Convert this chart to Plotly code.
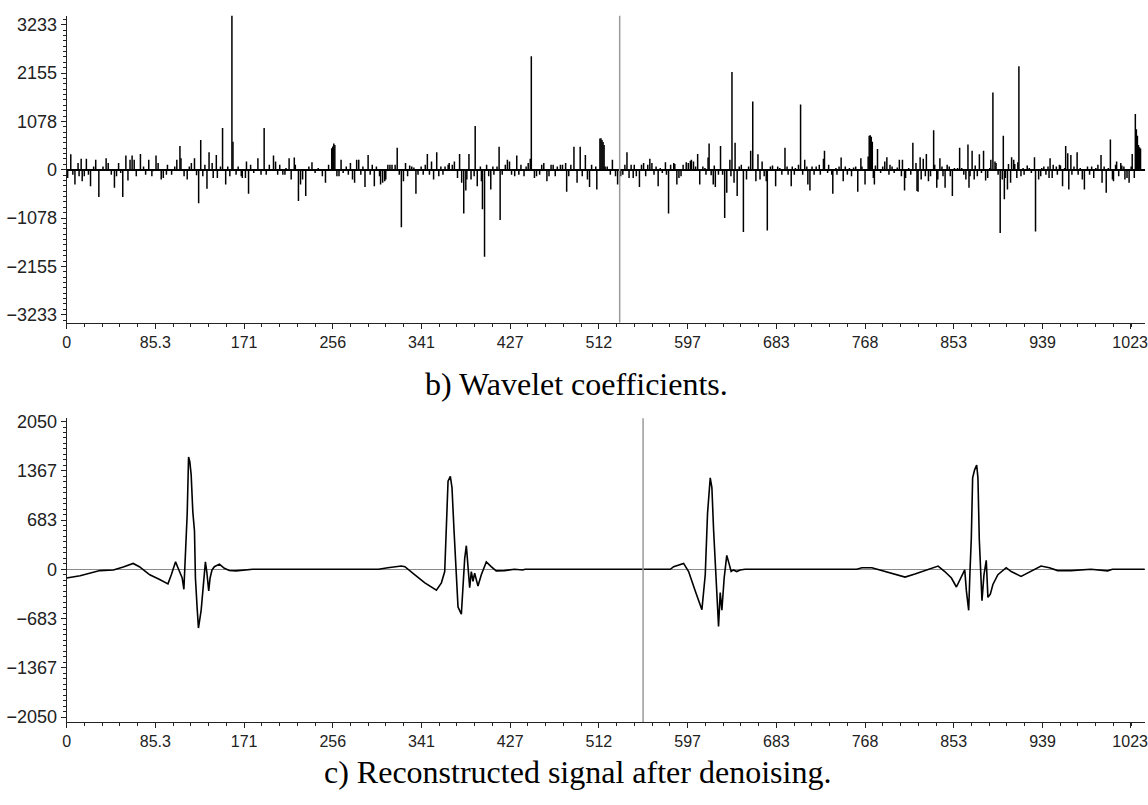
import plotly.graph_objects as go

W, H = 1148, 805

# ---- wavelet coefficients (sample index, value) ----
coef_index = [
    1, 4, 6, 8, 11, 12, 14, 15, 17, 19,
    21, 23, 26, 28, 31, 35, 38, 40, 43, 46,
    48, 50, 52, 54, 57, 59, 61, 63, 65, 67,
    71, 74, 76, 79, 82, 83, 86, 88, 91, 93,
    96, 97, 101, 104, 106, 109, 110, 113, 116, 118,
    120, 123, 125, 127, 129, 131, 133, 135, 137, 140,
    141, 144, 145, 148, 150, 153, 155, 157, 159, 160,
    163, 165, 168, 169, 172, 173, 175, 177, 180, 184,
    187, 190, 192, 195, 199, 201, 203, 205, 208, 210,
    211, 214, 216, 219, 220, 223, 225, 227, 230, 233,
    236, 239, 242, 246, 249, 252, 255, 256, 257, 258,
    260, 262, 264, 266, 269, 271, 273, 275, 277, 279,
    281, 283, 285, 287, 290, 292, 294, 296, 298, 301,
    302, 304, 306, 307, 309, 311, 313, 316, 318, 320,
    322, 324, 326, 328, 330, 332, 334, 336, 338, 341,
    343, 345, 347, 349, 351, 353, 356, 358, 360, 362,
    364, 367, 368, 371, 373, 376, 378, 380, 382, 384,
    385, 387, 389, 392, 393, 395, 398, 399, 400, 402,
    404, 406, 408, 410, 411, 414, 416, 417, 419, 422,
    424, 426, 428, 431, 433, 435, 437, 440, 442, 444,
    446, 447, 450, 452, 455, 457, 459, 462, 464, 466,
    468, 470, 472, 475, 477, 480, 481, 483, 485, 488,
    491, 494, 496, 499, 501, 503, 505, 509, 510, 513,
    514, 515, 516, 517, 518, 520, 523, 525, 528, 530,
    533, 535, 537, 539, 541, 543, 545, 546, 548, 551,
    553, 555, 557, 559, 561, 563, 565, 567, 569, 571,
    573, 576, 577, 579, 581, 584, 585, 587, 589, 591,
    593, 596, 598, 600, 601, 603, 605, 607, 609, 612,
    614, 615, 617, 618, 620, 622, 623, 624, 627, 629,
    631, 633, 635, 638, 639, 640, 642, 643, 645, 647,
    649, 651, 654, 656, 658, 660, 663, 665, 667, 669,
    671, 673, 674, 677, 679, 682, 684, 686, 688, 691,
    693, 694, 697, 698, 700, 701, 704, 706, 708, 710,
    712, 713, 715, 717, 719, 721, 724, 725, 728, 729,
    732, 733, 736, 737, 740, 741, 743, 745, 747, 749,
    751, 753, 755, 757, 759, 761, 764, 765, 768, 771,
    772, 773, 774, 775, 776, 777, 778, 780, 783, 785,
    787, 789, 791, 792, 794, 796, 799, 801, 803, 804,
    806, 807, 810, 812, 814, 817, 818, 819, 821, 822,
    824, 826, 827, 829, 831, 834, 835, 837, 838, 840,
    842, 843, 845, 847, 849, 850, 852, 854, 857, 859,
    861, 863, 865, 867, 868, 869, 871, 873, 874, 876,
    878, 880, 882, 884, 886, 888, 889, 891, 893, 894,
    896, 898, 900, 901, 902, 903, 905, 906, 908, 909,
    911, 912, 914, 915, 916, 918, 920, 921, 924, 926,
    928, 931, 932, 935, 937, 938, 940, 942, 944, 945,
    946, 948, 949, 952, 953, 955, 956, 958, 960, 961,
    963, 964, 966, 967, 969, 972, 973, 975, 977, 979,
    982, 984, 986, 988, 990, 992, 995, 996, 998, 1000,
    1002, 1004, 1006, 1007, 1009, 1010, 1012, 1014, 1015, 1017,
    1018, 1020, 1022, 1024, 1025, 1027, 1028, 1029, 1030, 1031,
    1032, 1033,
]
coef_value = [
    -183, 345, -110, -330, 147, -147, 242, -257, -147, 242,
    -110, -367, 73, 220, -608, 73, 257, 147, -110, -403,
    -147, 147, -73, -608, 315, -242, 220, 315, 220, -147,
    352, 73, -110, 220, -147, -37, 315, 147, -220, -183,
    -110, 110, -110, 73, 220, 528, 257, -147, -220, 73,
    147, 257, -125, -748, 660, -147, 110, -425, 388, 147,
    -183, 330, -183, 73, 931, -330, 73, -147, 3450, 623,
    -110, 73, -147, -183, -183, 183, -535, 110, -73, 257,
    -110, 931, -110, 110, 315, 183, -110, 110, -110, -110,
    37, 257, -220, 271, 110, -696, -330, -220, -586, 73,
    169, -73, 37, -147, -293, 110, 476, 520, 586, 550,
    -147, -147, 220, -73, 73, -110, 147, -220, -293, 220,
    220, -110, 73, -388, 330, -110, 110, -367, 73, -147,
    -330, -293, -257, -220, 110, 110, 110, 110, 491, -110,
    -1283, -257, 147, -147, 95, 73, 51, -535, -110, 73,
    -110, 110, 352, -110, 183, -220, 388, -147, 73, -110,
    73, 110, 147, 110, 183, -183, 352, -293, -975, -462,
    -220, 352, -220, -147, 975, -367, 73, -257, -880, -1942,
    110, -147, -440, 73, -110, 73, 513, -1121, -110, 110,
    220, 183, -110, -147, 315, -110, 110, -147, 73, 147,
    242, 2530, -183, -147, -110, 110, 147, -257, -147, 110,
    110, -147, 73, 110, 110, 147, -491, -147, 110, 513,
    -293, 513, -147, 330, -220, -388, 110, 73, -440, 696,
    700, 660, 620, 550, 73, 73, -110, 220, -147, -330,
    -147, -110, 110, 388, -183, 110, -183, 110, -147, -388,
    110, 147, -147, 110, 242, 147, -110, 73, -367, 37,
    -73, 169, -110, -975, 110, 147, 125, -330, -183, -147,
    110, 169, 147, 198, 220, 183, 73, 352, -330, 73,
    37, -110, 271, 586, -125, -330, 95, -388, -110, 528,
    -110, -1078, -513, 220, -147, 2180, -293, 601, -586, 73,
    110, -1390, -220, 73, 425, 1520, -257, 345, -220, 183,
    -147, -257, -1355, 73, 95, -367, 73, 37, -110, 491,
    73, -110, -367, 73, -110, 37, 110, 1452, -110, 220,
    73, -330, -462, 73, -110, 73, 110, -110, 242, 425,
    -73, 110, -110, -535, 37, -110, 73, 271, -257, 73,
    -110, 37, -147, 51, 73, -491, 257, 73, -330, 293,
    755, 770, 733, 623, -183, -330, 95, 462, -73, 73,
    183, 279, -110, 110, 73, -73, 51, 220, -147, 220,
    -462, -183, 37, -110, 601, 147, -476, -491, 279, -220,
    242, -147, 352, -257, -147, 880, 110, -403, -220, 257,
    73, -147, -403, 110, 73, -147, -586, 37, 37, 491,
    37, -110, -220, 564, -403, -147, 425, -220, 95, -147,
    345, -73, 425, -242, -183, 37, 220, 1720, 183, 147,
    -110, -1410, -220, 755, -660, -183, -440, 125, -293, 279,
    220, 125, -183, 169, 2310, -147, 37, -110, 95, 37,
    -73, 279, -1380, -220, -147, 37, 73, -110, 73, -183,
    257, -183, 110, 73, -110, 110, 95, -367, 37, 528,
    367, -440, 330, -110, 73, 388, -110, 37, -220, -440,
    73, -110, 73, -183, 37, 110, 330, -293, 73, -513,
    37, 674, -220, -257, 110, 183, -147, 147, 95, 73,
    -220, -183, -293, 73, 352, -183, 1245, 900, 755, 550,
    500, 475,
]

# ---- reconstructed signal ----
sig_x = [
    0, 13, 32, 45, 54.5, 64, 70, 80, 89.5, 97.5,
    100.7, 104.8, 108.6, 111.2, 112.8, 114.4, 116, 117.3, 118.5, 119.8,
    121.4, 123, 123.9, 125.5, 126.8, 129.4, 131.6, 133.5, 134.8, 136.7,
    138, 139.9, 142.1, 147, 151.7, 156.5, 163, 172.5, 179, 300,
    305, 309, 322, 325.4, 335, 344.6, 355.7, 360.5, 363.7, 365.3,
    366.9, 369.1, 370.7, 372.6, 374.9, 376.5, 379.7, 381.3, 382.9, 384.5,
    386.1, 387.7, 389.3, 390.9, 392.5, 395.7, 398.9, 403.7, 408.4, 413.2,
    421.2, 430.8, 438.7, 441, 580.7, 583.9, 593.5, 598.3, 604.7, 611.1,
    614.3, 616.5, 619.1, 620.7, 622.3, 624.8, 627.1, 628.7, 630.3, 632.5,
    635, 637.6, 639.2, 641.4, 644.6, 647.8, 652.6, 760, 765, 774.6,
    784.2, 793.7, 806.5, 816, 828.8, 838.3, 844.7, 851.1, 855.9, 860.7,
    863.9, 865.5, 867.7, 869, 870.2, 871.5, 873.4, 875.4, 876.6, 877.9,
    879.2, 880.5, 882.4, 884.6, 886.2, 888.5, 891, 895.8, 903.8, 908.6,
    918.1, 927.7, 937.3, 945.3, 953.3, 966.1, 980.5, 985.3, 1001.3, 1006,
    1037,
]
sig_y = [
    -121, -90, -18, -9, 31, 81, 36, -76, -143, -202,
    -76, 103, -31, -121, -278, 305, 775, 1559, 1492, 1313,
    797, 529, -121, -524, -815, -569, -255, 103, -31, -300,
    -121, -9, 36, 72, 13, -18, -22, -9, 0, 0,
    18, 22, 45, 36, -76, -188, -291, -188, -31, 551,
    1223, 1290, 1133, 551, -121, -524, -623, -211, 148, 327,
    58, -255, -31, -166, -54, -233, -76, 103, 36, -22,
    -18, 0, -9, 0, 0, 36, 81, -31, -300, -560,
    -76, 775, 1268, 1133, 551, -121, -793, -323, -569, -121,
    193, 58, -31, -9, -31, -9, 0, 0, 22, 22,
    -18, -54, -108, -67, 0, 45, -31, -121, -246, -99,
    -9, -300, -569, -9, 417, 1268, 1380, 1447, 1268, 417,
    -121, -435, -76, 125, -390, -345, -211, -76, 22, -31,
    -99, -31, 45, 22, -18, -18, -9, 0, -22, 0,
    0,
]

x_tick_vals = [0, 85.3, 170.7, 256, 341.3, 426.7, 512, 597.3, 682.7, 768, 853.3, 938.7, 1023]
x_tick_text = ["0", "85.3", "171", "256", "341", "427", "512", "597", "683", "768", "853", "939", "1023"]
y1_ticks = [-3233, -2155, -1078, 0, 1078, 2155, 3233]
y2_ticks = [-2050, -1367, -683, 0, 683, 1367, 2050]
cursor_top = 532
cursor_bottom = 554.5
caption_b = "b) Wavelet coefficients."
caption_c = "c) Reconstructed signal after denoising."

# stems built from the coefficient lists
stem_x, stem_y = [], []
for i, v in zip(coef_index, coef_value):
    stem_x += [i, i, None]
    stem_y += [0, v, None]

fig = go.Figure()
fig.add_trace(go.Scatter(x=stem_x, y=stem_y, mode="lines",
                         line=dict(color="black", width=1.5),
                         xaxis="x", yaxis="y", hoverinfo="skip", showlegend=False))
fig.add_trace(go.Scatter(x=sig_x, y=sig_y, mode="lines",
                         line=dict(color="black", width=1.6),
                         xaxis="x2", yaxis="y2", hoverinfo="skip", showlegend=False))

sans = "Liberation Sans, Arial, sans-serif"
common = dict(showline=True, linecolor="#222", linewidth=1, ticks="outside",
              tickcolor="#222", ticklen=5, tickwidth=1, showgrid=False)

x_dom = [63 / W, 1.0]
x_range = [0, 1037.3]
top_dom = [1 - 321 / H, 1 - 10 / H]
bot_dom = [1 - 726 / H, 1 - 418 / H]

xcommon = dict(common, domain=x_dom, range=x_range, tickmode="array",
               tickvals=x_tick_vals, ticktext=x_tick_text, zeroline=False,
               ticklabeloverflow="allow",
               tickfont=dict(family=sans, size=16, color="#222"),
               minor=dict(ticks="outside", ticklen=3, tickcolor="#222",
                          tick0=0, dtick=1024 / 60, showgrid=False))
yfont = dict(family=sans, size=18, color="#222")

fig.update_layout(
    width=W, height=H,
    margin=dict(l=0, r=0, t=0, b=0),
    paper_bgcolor="white", plot_bgcolor="white",
    showlegend=False,
    xaxis=dict(xcommon, anchor="y"),
    xaxis2=dict(xcommon, anchor="y2"),
    yaxis=dict(common, domain=top_dom, range=[-3410, 3431], anchor="x",
               tickmode="array", tickvals=y1_ticks, tickfont=yfont,
               zeroline=True, zerolinecolor="black", zerolinewidth=2,
               minor=dict(ticks="outside", ticklen=3, tickcolor="#222",
                          tick0=0, dtick=1078 / 9, showgrid=False)),
    yaxis2=dict(common, domain=bot_dom, range=[-2120, 2095], anchor="x2",
                tickmode="array", tickvals=y2_ticks, tickfont=yfont,
                zeroline=True, zerolinecolor="#8a8a8a", zerolinewidth=1,
                minor=dict(ticks="outside", ticklen=3, tickcolor="#222",
                           tick0=0, dtick=683.33 / 9, showgrid=False)),
    shapes=[
        dict(type="line", xref="x", yref="y domain", x0=cursor_top, x1=cursor_top,
             y0=0, y1=1, line=dict(color="#9a9a9a", width=1.5)),
        dict(type="line", xref="x2", yref="y2 domain", x0=cursor_bottom, x1=cursor_bottom,
             y0=0, y1=1, line=dict(color="#9a9a9a", width=1.5)),
    ],
    annotations=[
        dict(text=caption_b, xref="paper", yref="paper", x=576 / W, y=1 - 383 / H,
             xanchor="center", yanchor="middle", showarrow=False,
             font=dict(family="Liberation Serif, Times New Roman, serif", size=32, color="black")),
        dict(text=caption_c, xref="paper", yref="paper", x=577 / W, y=1 - 777 / H,
             xanchor="center", yanchor="middle", showarrow=False,
             font=dict(family="Liberation Serif, Times New Roman, serif", size=32, color="black")),
    ],
)

fig.write_html("out.html", config={"displayModeBar": False},
               post_script="document.body.style.margin='0';")
